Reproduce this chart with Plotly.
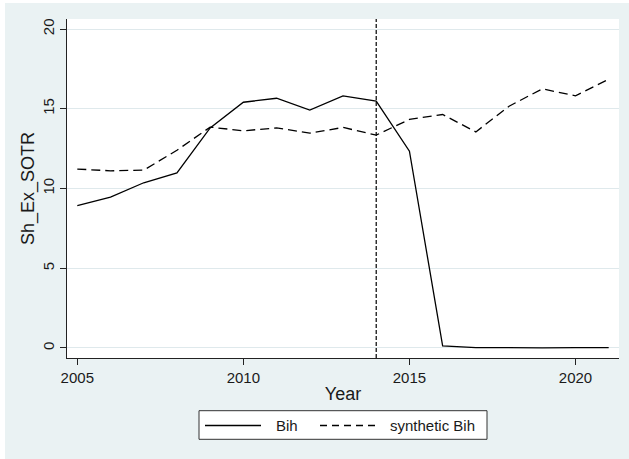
import plotly.graph_objects as go

years = list(range(2005, 2022))
bih = [8.92, 9.46, 10.36, 10.98, 13.8, 15.41, 15.66, 14.92, 15.81, 15.48,
       12.34, 0.13, 0.02, 0.0, 0.01, 0.02, 0.02]
synthetic_bih = [11.22, 11.11, 11.15, 12.4, 13.85, 13.62, 13.8, 13.47, 13.83, 13.35,
                 14.33, 14.64, 13.55, 15.16, 16.25, 15.81, 16.85]
treatment_year = 2014
x_ticks = [2005, 2010, 2015, 2020]
y_ticks = [0, 5, 10, 15, 20]
series_names = ["Bih", "synthetic Bih"]

BG = "#EAF2F3"
GRID = "#DFE9EC"
TXT = "#1a1a1a"
FONT = "Liberation Sans, Arial, sans-serif"

fig = go.Figure()
fig.add_trace(go.Scatter(x=years, y=bih, mode="lines", name=series_names[0],
                         line=dict(color="black", width=1.3), showlegend=False))
fig.add_trace(go.Scatter(x=years, y=synthetic_bih, mode="lines", name=series_names[1],
                         line=dict(color="black", width=1.3, dash="9px,5px"), showlegend=False))

L, R, T, B = 67, 10, 19, 101
W, H = 629, 459
pw, ph = W - L - R, H - T - B

def px_x(p):
    return (p - L) / pw

def px_y(p):
    return (H - B - p) / ph

shapes = [
    dict(type="rect", xref="paper", yref="paper", x0=px_x(5), x1=px_x(640),
         y0=px_y(459), y1=px_y(3), fillcolor=BG, line=dict(width=0), layer="below"),
    dict(type="rect", xref="paper", yref="paper", x0=0, x1=1, y0=0, y1=1,
         fillcolor="white", line=dict(width=0), layer="below"),
    dict(type="line", xref="x", yref="paper", x0=treatment_year, x1=treatment_year,
         y0=0, y1=1, line=dict(color="black", width=1.2, dash="4px,2px")),
    # legend box
    dict(type="rect", xref="paper", yref="paper", x0=px_x(199), x1=px_x(487),
         y0=px_y(439.3), y1=px_y(410.7), fillcolor="white",
         line=dict(color="#333333", width=1)),
    dict(type="line", xref="paper", yref="paper", x0=px_x(205), x1=px_x(261),
         y0=px_y(425.5), y1=px_y(425.5), line=dict(color="black", width=1.3)),
    dict(type="line", xref="paper", yref="paper", x0=px_x(320), x1=px_x(379),
         y0=px_y(425.5), y1=px_y(425.5), line=dict(color="black", width=1.3, dash="7px,5px")),
]

annotations = [
    dict(xref="paper", yref="paper", x=px_x(274), y=px_y(425.5), xanchor="left",
         yanchor="middle", text=series_names[0], showarrow=False,
         font=dict(family=FONT, size=15, color=TXT)),
    dict(xref="paper", yref="paper", x=px_x(388), y=px_y(425.5), xanchor="left",
         yanchor="middle", text=series_names[1], showarrow=False,
         font=dict(family=FONT, size=15, color=TXT)),
]

fig.update_layout(
    width=W, height=H,
    margin=dict(l=L, r=R, t=T, b=B, autoexpand=False),
    paper_bgcolor="white", plot_bgcolor="white",
    font=dict(family=FONT, size=15, color=TXT),
    shapes=shapes, annotations=annotations, showlegend=False,
)
fig.update_xaxes(
    range=[2004.69, 2021.31], tickvals=x_ticks, ticks="outside", ticklen=6,
    tickcolor="#222222", tickwidth=1.2, showline=True, linecolor="#222222", linewidth=1.3,
    showgrid=False, zeroline=False, title=dict(text="Year", standoff=2),
    tickfont=dict(size=15), automargin=False,
)
fig.update_yaxes(
    range=[-0.63, 20.63], tickvals=y_ticks, ticks="outside", ticklen=6,
    tickcolor="#222222", tickwidth=1.2, showline=True, linecolor="#222222", linewidth=1.3,
    showgrid=True, gridcolor=GRID, gridwidth=1, zeroline=False, tickangle=-90,
    title=dict(text="Sh_Ex_SOTR", standoff=0), tickfont=dict(size=15), automargin=False,
)

fig.write_html("out.html", config={"displayModeBar": False})

with open("out.html", encoding="utf-8") as f:
    html = f.read()
html = html.replace("<body>", '<body style="margin:0;padding:0;">', 1)
html = html.replace("<head>", '<head><style>html,body{margin:0;padding:0;overflow:hidden;}</style>', 1)
with open("out.html", "w", encoding="utf-8") as f:
    f.write(html)
